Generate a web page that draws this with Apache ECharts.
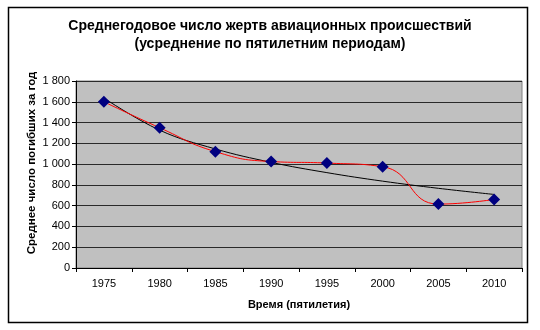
<!DOCTYPE html>
<html>
<head>
<meta charset="utf-8">
<script src="https://cdn.jsdelivr.net/npm/echarts@6/dist/echarts.min.js"></script>
<style>
  html, body { margin: 0; padding: 0; background: #fff; }
  #chart { width: 540px; height: 330px; }
</style>
</head>
<body>
<div id="chart"></div>
<script>
// Five-year periods
const years = ['1975', '1980', '1985', '1990', '1995', '2000', '2005', '2010'];
// Average annual fatalities per period
const fatalities = [1600, 1350, 1120, 1025, 1010, 975, 615, 660];
// Logarithmic trend line values
const trendValues = [1636, 1327, 1146, 1017, 918, 836, 767, 708];

const FONT = '"Liberation Sans", Arial, sans-serif';

const chart = echarts.init(document.getElementById('chart'), null, { renderer: 'canvas' });

chart.setOption({
  animation: false,
  backgroundColor: '#ffffff',
  textStyle: { fontFamily: FONT },
  title: {
    text: 'Среднегодовое число жертв авиационных происшествий\n(усреднение по пятилетним периодам)',
    left: 'center',
    top: 12,
    textStyle: {
      fontFamily: FONT,
      fontSize: 14,
      fontWeight: 'bold',
      color: '#000',
      lineHeight: 18
    }
  },
  graphic: [
    {
      type: 'rect',
      shape: { x: 8.5, y: 7.5, width: 519, height: 315 },
      style: { fill: 'none', stroke: '#000', lineWidth: 1.5 },
      silent: true,
      z: -1
    },
    {
      // vertical axis title
      type: 'text',
      x: 32,
      y: 163,
      rotation: Math.PI / 2,
      style: {
        text: 'Среднее число погибших за год',
        fontFamily: FONT,
        fontSize: 11.5,
        fontWeight: 'bold',
        fill: '#000',
        align: 'center',
        verticalAlign: 'middle'
      },
      silent: true
    }
  ],
  grid: {
    left: 76,
    right: 18,
    top: 81,
    bottom: 62,
    show: true,
    backgroundColor: '#c0c0c0',
    borderColor: '#808080',
    borderWidth: 1
  },
  xAxis: {
    type: 'category',
    data: years,
    boundaryGap: true,
    name: 'Время (пятилетия)',
    nameLocation: 'middle',
    nameGap: 31,
    nameTextStyle: { fontFamily: FONT, fontSize: 11, fontWeight: 'bold', color: '#000' },
    axisLine: { lineStyle: { color: '#000', width: 1 } },
    axisTick: { show: true, interval: 0, alignWithLabel: false, length: 4, lineStyle: { color: '#000' } },
    axisLabel: { interval: 0, margin: 10, fontFamily: FONT, fontSize: 11, color: '#000' },
    splitLine: { show: false }
  },
  yAxis: {
    type: 'value',
    min: 0,
    max: 1800,
    interval: 200,
    axisLine: { show: true, lineStyle: { color: '#000', width: 1 } },
    axisTick: { show: true, length: 4, lineStyle: { color: '#000' } },
    axisLabel: {
      margin: 6,
      fontFamily: FONT,
      fontSize: 11,
      color: '#000',
      formatter: v => String(v).replace(/\B(?=(\d{3})+(?!\d))/g, ' ')
    },
    splitLine: { show: true, lineStyle: { color: '#2a2a2a', width: 1 } }
  },
  series: [
    {
      name: 'trend',
      type: 'line',
      data: trendValues,
      smooth: 0.4,
      showSymbol: false,
      symbol: 'none',
      lineStyle: { color: '#000', width: 1 },
      z: 2
    },
    {
      name: 'fatalities',
      type: 'line',
      data: fatalities,
      smooth: 0.5,
      symbol: 'diamond',
      symbolSize: 12,
      itemStyle: { color: '#000080' },
      lineStyle: { color: '#ff0000', width: 1 },
      z: 3
    }
  ]
});
</script>
</body>
</html>
